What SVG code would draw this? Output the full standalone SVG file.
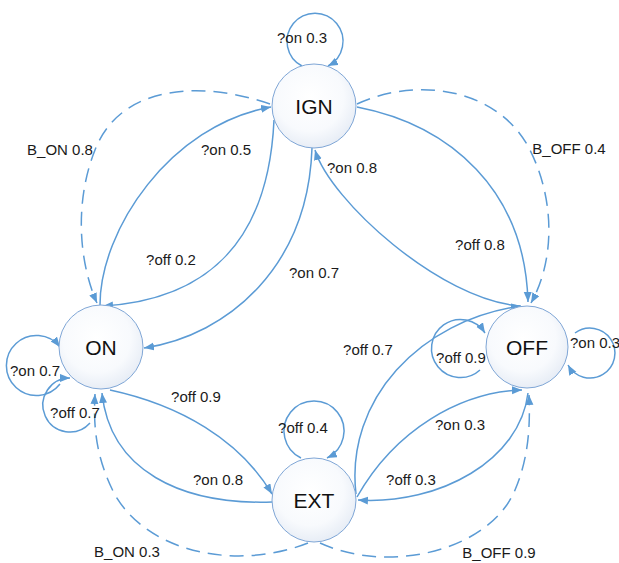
<svg xmlns="http://www.w3.org/2000/svg" width="619" height="563" viewBox="0 0 619 563">
<style>
.e{fill:none;stroke:#5b9bd5;stroke-width:1.5;marker-end:url(#ah)}
.d{stroke-dasharray:14 8}
.n{fill:url(#g);stroke:#7fa6d6;stroke-width:1}
.t{font-family:"Liberation Sans",Arial,sans-serif;font-size:21px;fill:#111;text-anchor:middle}
.l{font-family:"Liberation Sans",Arial,sans-serif;font-size:15px;fill:#1a1a1a;text-anchor:middle}
</style>
<defs>
<radialGradient id="g" cx="45%" cy="40%" r="62%">
<stop offset="0" stop-color="#ffffff"/>
<stop offset="0.65" stop-color="#f8fafd"/>
<stop offset="1" stop-color="#e6ecf5"/>
</radialGradient>
<marker id="ah" markerUnits="userSpaceOnUse" markerWidth="11" markerHeight="9" refX="10" refY="4" orient="auto">
<path d="M0,0 L10,4 L0,8 z" fill="#5b9bd5"/>
</marker>
</defs>
<g id="connectors">
<path class="e" d="M302,66 A28 28 0 1 1 328,66"/>
<path class="e" d="M100,305 C100,230 170,125 271,107"/>
<path class="e" d="M274,120 C268,250 200,300 103,306"/>
<path class="e d" d="M270,104 C200,80 120,85 95,150 C75,200 78,260 97,303"/>
<path class="e d" d="M357,104 C420,75 500,90 530,150 C555,200 555,260 531,303"/>
<path class="e" d="M357,107 C450,125 525,190 528,302"/>
<path class="e" d="M520,306 C440,300 330,200 315,150"/>
<path class="e" d="M312,148 C308,265 230,335 144,348"/>
<path class="e" d="M356,494 C345,400 420,320 521,306"/>
<path class="e" d="M357,497 C395,430 460,392 522,390"/>
<path class="e" d="M528,393 C520,460 440,505 358,500"/>
<path class="e d" d="M320,543 C390,575 490,550 515,490 C530,455 530,420 529,395"/>
<path class="e d" d="M308,543 C240,570 150,555 115,495 C97,460 93,430 95,394"/>
<path class="e" d="M110,390 C180,405 240,440 272,494"/>
<path class="e" d="M272,502 C180,505 110,470 102,393"/>
<path class="e" d="M301,458 A30 30 0 1 1 327,458"/>
<path class="e" d="M60,384 A30 30 0 1 1 60,347"/>
<path class="e" d="M90,423 A27 27 0 1 1 70,378"/>
<path class="e" d="M480,370 A29 29 0 1 1 485,333"/>
<path class="e" d="M575,333 A25 25 0 1 1 568,365"/>
</g>
<g id="labels">
<text class="l" x="302" y="43">?on 0.3</text>
<text class="l" x="60" y="155">B_ON 0.8</text>
<text class="l" x="226" y="155">?on 0.5</text>
<text class="l" x="171" y="265">?off 0.2</text>
<text class="l" x="352" y="173">?on 0.8</text>
<text class="l" x="569" y="154">B_OFF 0.4</text>
<text class="l" x="480" y="250">?off 0.8</text>
<text class="l" x="314" y="278">?on 0.7</text>
<text class="l" x="368" y="355">?off 0.7</text>
<text class="l" x="35" y="376">?on 0.7</text>
<text class="l" x="75" y="418">?off 0.7</text>
<text class="l" x="196" y="402">?off 0.9</text>
<text class="l" x="303" y="433">?off 0.4</text>
<text class="l" x="218" y="485">?on 0.8</text>
<text class="l" x="127" y="557">B_ON 0.3</text>
<text class="l" x="461" y="363">?off 0.9</text>
<text class="l" x="570" y="348" style="text-anchor:start">?on 0.3</text>
<text class="l" x="460" y="430">?on 0.3</text>
<text class="l" x="411" y="485">?off 0.3</text>
<text class="l" x="499" y="558">B_OFF 0.9</text>
</g>
<g id="IGN"><circle class="n" cx="314" cy="106" r="42"/><text class="t" x="314" y="114">IGN</text></g>
<g id="ON"><circle class="n" cx="101" cy="347" r="42"/><text class="t" x="101" y="355">ON</text></g>
<g id="OFF"><circle class="n" cx="527" cy="347" r="41"/><text class="t" x="527" y="355">OFF</text></g>
<g id="EXT"><circle class="n" cx="314" cy="500" r="42"/><text class="t" x="314" y="508">EXT</text></g>
</svg>
